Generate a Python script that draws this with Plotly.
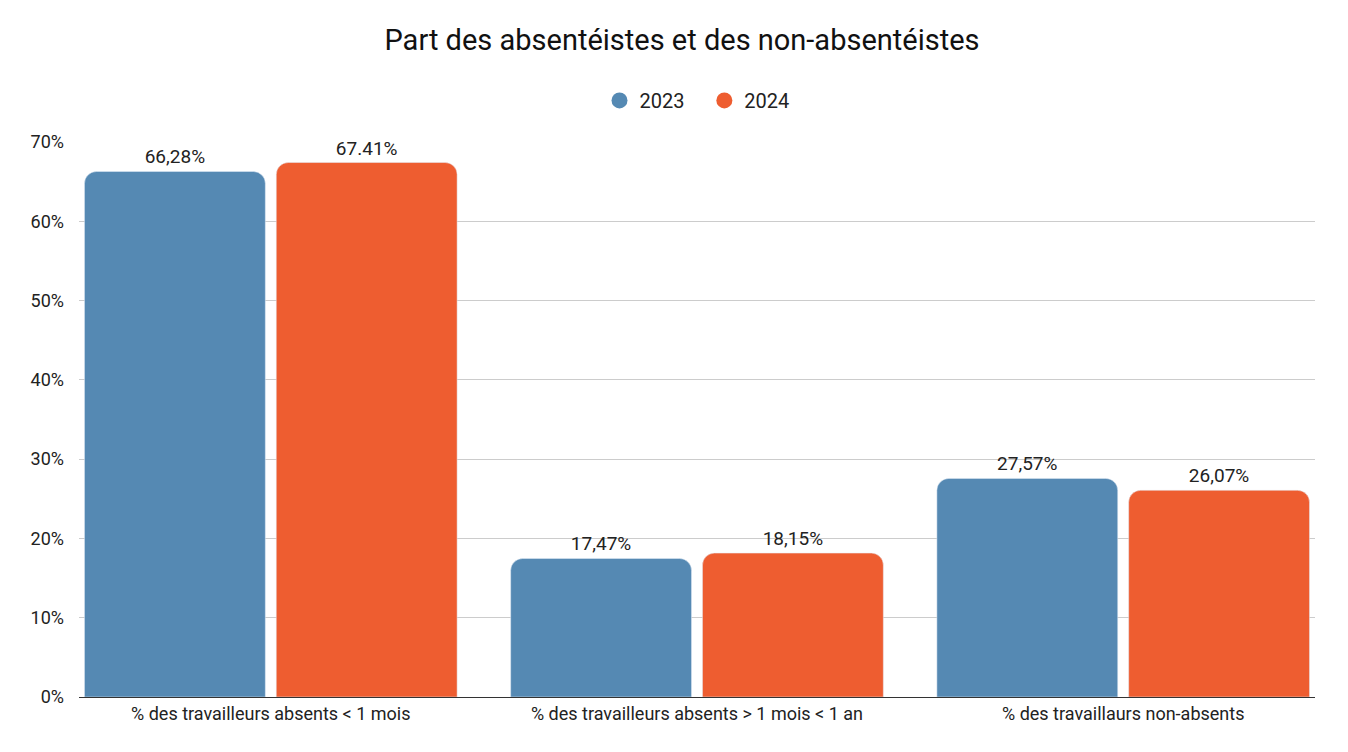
import plotly.graph_objects as go

categories = ["% des travailleurs absents < 1 mois",
              "% des travailleurs absents > 1 mois < 1 an",
              "% des travaillaurs non-absents"]
v2023 = [66.28, 17.47, 27.57]
v2024 = [67.41, 18.15, 26.07]
lbl2023 = ["66,28%", "17,47%", "27,57%"]
lbl2024 = ["67.41%", "18,15%", "26,07%"]

blue = "#5589B3"
orange = "#EE5D30"

fig = go.Figure()
fig.add_bar(x=categories, y=v2023, text=lbl2023, marker_color=blue,
            textposition="outside", showlegend=False, cliponaxis=False)
fig.add_bar(x=categories, y=v2024, text=lbl2024, marker_color=orange,
            textposition="outside", showlegend=False, cliponaxis=False)
# legend entries as circles
fig.add_scatter(x=[None], y=[None], mode="markers", name="2023   ",
                marker=dict(color=blue, size=22, symbol="circle"))
fig.add_scatter(x=[None], y=[None], mode="markers", name="2024",
                marker=dict(color=orange, size=22, symbol="circle"))

fig.update_traces(textfont=dict(size=19, color="#222"), selector=dict(type="bar"))

fig.update_layout(
    width=1348, height=752,
    font=dict(family="Roboto", size=18, color="#222"),
    title=dict(text="Part des absentéistes et des non-absentéistes",
               x=0.5, xanchor="center", y=0.957, yanchor="middle",
               font=dict(size=29, color="#111")),
    legend=dict(orientation="h", x=0.5, xanchor="center", y=1.075, yanchor="middle",
                font=dict(size=20)),
    barmode="group", bargap=0.1, bargroupgap=0.057, barcornerradius=12,
    plot_bgcolor="white", paper_bgcolor="white",
    margin=dict(l=71, r=41, t=134, b=63),
    yaxis=dict(range=[0, 70], dtick=10, ticksuffix="%", gridcolor="#cccccc",
               zeroline=False, ticks="", ticklabelstandoff=14),
    xaxis=dict(showline=True, linecolor="#333", ticks="", range=[-0.45, 2.45]),
)

fig.write_html("out.html")
